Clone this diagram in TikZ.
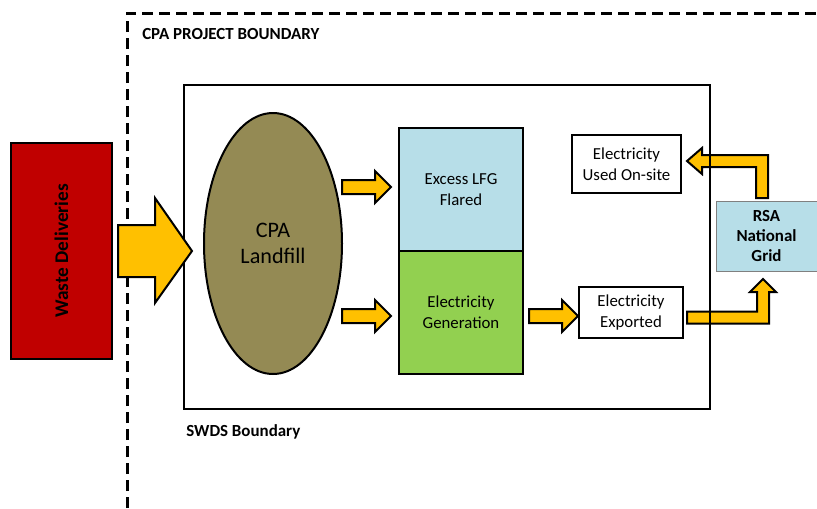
\documentclass[tikz,border=0pt]{standalone}
\usepackage{fontspec}
\setmainfont{Carlito}
\usetikzlibrary{shapes.geometric}
\definecolor{wastered}{HTML}{C00000}
\definecolor{landfillolive}{HTML}{948A54}
\definecolor{lfgblue}{HTML}{B7DEE8}
\definecolor{gengreen}{HTML}{92D050}
\definecolor{arrowgold}{HTML}{FFC000}
\begin{document}
\begin{tikzpicture}[x=0.75pt,y=-0.75pt,
        box/.style={draw,line width=1.5pt,align=center,inner sep=0pt,
            font=\fontsize{12.6}{15.75}\selectfont},
        blockarrow/.style={draw,line width=1.5pt,fill=arrowgold,line join=miter},
        boundary/.style={line width=2.25pt,dash pattern=on 8.25pt off 4.5pt},
        label/.style={anchor=west,inner sep=0pt,font=\bfseries\fontsize{12.7}{15}\selectfont}]
    \useasboundingbox (0,0) rectangle (817,508);
    % grid arrows sit under the SWDS line
    \draw[blockarrow] (756,198)--(756,167)--(702,167)--(702,174)--(687,161)
        --(702,148)--(702,155)--(768,155)--(768,198)--cycle;
    \draw[blockarrow] (687,323.5)--(769,323.5)--(769,292)--(776,292)--(763,279)
        --(750,292)--(757,292)--(757,311.5)--(687,311.5)--cycle;
    \draw[boundary] (127,508)--(127,13)--(817,13);
    \node[label] (projlabel) at (142,34) {CPA PROJECT BOUNDARY};
    \draw[line width=1.5pt] (184,85) rectangle (710,409);
    \node[label] (swdslabel) at (186,432) {SWDS Boundary};
    \node[box,fill=wastered,rotate=90,minimum width=162pt,minimum height=75.75pt,
        font=\bfseries\fontsize{14.5}{17}\selectfont] (waste) at (61.5,251) {Waste Deliveries};
    \draw[blockarrow] (118,225)--(155,225)--(155,198)--(192,251)--(155,303)
        --(155,277)--(118,277)--cycle;
    \node[box,ellipse,fill=landfillolive,minimum width=103.5pt,minimum height=195.75pt,
        font=\fontsize{16.6}{19.5}\selectfont] (landfill) at (273,243.5) {CPA\\Landfill};
    \node[box,fill=lfgblue,minimum width=93pt,minimum height=92.25pt] (flared) at (461,189.5) {Excess LFG\\Flared};
    \node[box,fill=gengreen,minimum width=93pt,minimum height=92.25pt] (generation) at (461,312) {Electricity\\Generation};
    \node[box,minimum width=81.75pt,minimum height=43.5pt] (onsite) at (626.5,164) {Electricity\\Used On-site};
    \node[box,minimum width=78pt,minimum height=38.25pt] (exported) at (631,312.5) {Electricity\\Exported};
    \node[box,draw=gray,line width=0.75pt,fill=lfgblue,minimum width=75.75pt,minimum height=52.5pt,
        font=\bfseries\fontsize{12.7}{15}\selectfont] (grid) at (766.5,236) {RSA\\National\\Grid};
    \draw[blockarrow] (342,180)--(375,180)--(375,171)--(391,187)--(375,203)--(375,194)--(342,194)--cycle;
    \draw[blockarrow] (342,309)--(375,309)--(375,300)--(391,316)--(375,332)--(375,323)--(342,323)--cycle;
    \draw[blockarrow] (529,309)--(562,309)--(562,300)--(578,316)--(562,332)--(562,323)--(529,323)--cycle;
\end{tikzpicture}
\end{document}
